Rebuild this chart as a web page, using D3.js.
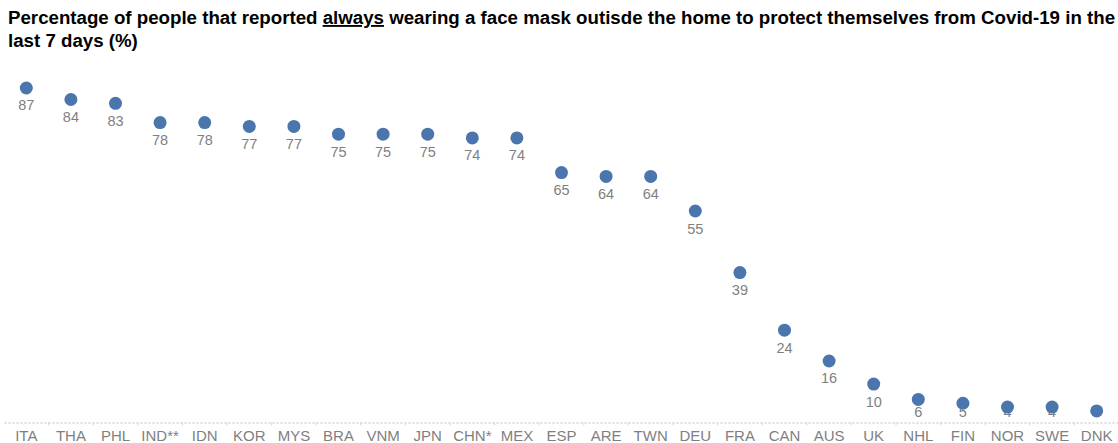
<!DOCTYPE html>
<html><head><meta charset="utf-8">
<script src="https://cdn.jsdelivr.net/npm/d3@7"></script>
<style>body{margin:0;background:#fff}svg{display:block}</style>
</head><body><svg id="c" width="1118" height="443"></svg>
<script>
const categories = ["ITA","THA","PHL","IND**","IDN","KOR","MYS","BRA","VNM","JPN","CHN*","MEX","ESP","ARE","TWN","DEU","FRA","CAN","AUS","UK","NHL","FIN","NOR","SWE","DNK"];
const values = [87,84,83,78,78,77,77,75,75,75,74,74,65,64,64,55,39,24,16,10,6,5,4,4,3];
const titleLine1 = ["Percentage of people that reported ", "always", " wearing a face mask outisde the home to protect themselves from Covid-19 in the"];
const titleLine2 = "last 7 days (%)";

const svg = d3.select("#c");
const font = "'Liberation Sans', Arial, sans-serif";
const x = d3.scaleBand().domain(categories).range([4, 1119]);
const y = d3.scaleLinear().domain([0, 100]).range([422.5, 38]);

// title
const t1 = svg.append("text").attr("x", 8).attr("y", 24)
  .style("font-family", font).style("font-weight", "bold").style("font-size", "18.7px").attr("fill", "#000");
titleLine1.forEach((s, i) => {
  const ts = t1.append("tspan").text(s);
  if (i === 1) ts.style("text-decoration", "underline");
});
svg.append("text").attr("x", 8).attr("y", 47)
  .style("font-family", font).style("font-weight", "bold").style("font-size", "18.7px").text(titleLine2);

// axis
const axis = d3.axisBottom(x).tickSize(0).tickPadding(8);
const g = svg.append("g").attr("transform", `translate(0,${y(0)})`).call(axis);
g.select(".domain").attr("stroke", "#bfbfbf").attr("stroke-dasharray", "2,2").attr("stroke-width", 1);
g.selectAll(".tick text").attr("fill", "#7f7f7f").style("font-family", font).style("font-size", "15px");
// separators between categories
svg.append("g").selectAll("line").data(categories.slice(1)).join("line")
  .attr("x1", d => x(d)).attr("x2", d => x(d))
  .attr("y1", y(0)).attr("y2", y(0) + 3)
  .attr("stroke", "#d9d9d9");

// labels (clamped above the axis, drawn beneath the dots)
svg.append("g").selectAll("text").data(values).join("text")
  .attr("x", (d, i) => x(categories[i]) + x.bandwidth() / 2)
  .attr("y", d => Math.min(y(d) + 22.5, 417))
  .attr("text-anchor", "middle")
  .attr("fill", "#7f7f7f")
  .style("font-family", font).style("font-size", "14.5px")
  .text(d => d);

// dots
svg.append("g").selectAll("circle").data(values).join("circle")
  .attr("cx", (d, i) => x(categories[i]) + x.bandwidth() / 2)
  .attr("cy", d => y(d))
  .attr("r", 6.5)
  .attr("fill", "#4a76ad");
</script></body></html>
